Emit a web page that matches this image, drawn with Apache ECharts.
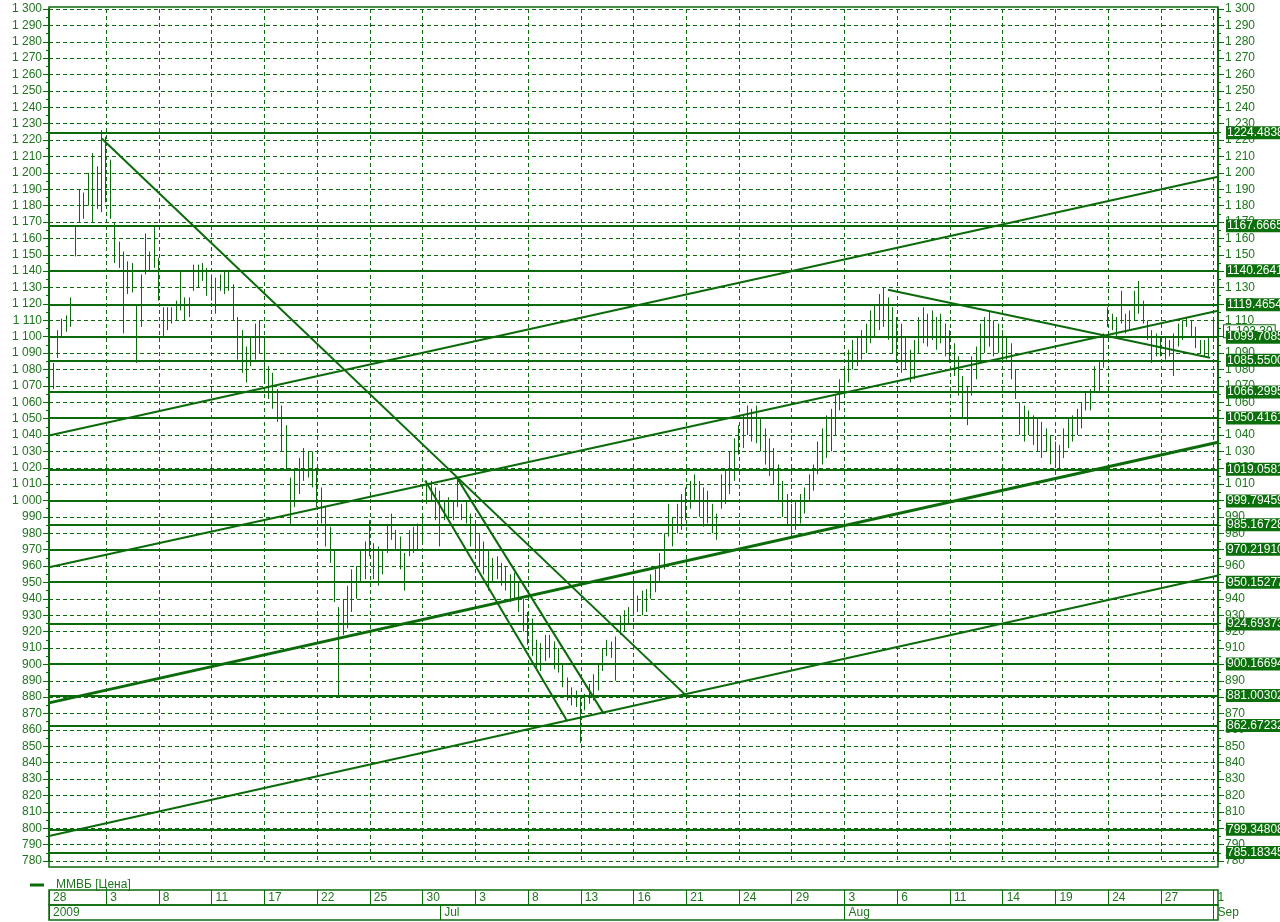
<!DOCTYPE html>
<html><head><meta charset="utf-8">
<script src="https://cdn.jsdelivr.net/npm/echarts@6/dist/echarts.min.js"></script>
<style>html,body{margin:0;padding:0;background:#fff}#c{width:1280px;height:922px}</style>
</head><body><div id="c"></div>
<script>
// ---- data ----
const YEAR = 2009;
const tradingDays = ['05-28','05-29','06-01','06-02','06-03','06-04','06-05','06-08','06-09','06-10','06-11','06-15','06-16','06-17','06-18','06-19','06-22','06-23','06-24','06-25','06-26','06-29','06-30','07-01','07-02','07-03','07-06','07-07','07-08','07-09','07-10','07-13','07-14','07-15','07-16','07-17','07-20','07-21','07-22','07-23','07-24','07-27','07-28','07-29','07-30','07-31','08-03','08-04','08-05','08-06','08-07','08-10','08-11','08-12','08-13','08-14','08-17','08-18','08-19','08-20','08-21','08-24','08-25','08-26','08-27','08-28','08-31','09-01'];
const barsFirstDay = 1, barsPerDay = 4, barsLastDay = 2;

const lows = [
1070,1068,1087,1100,1103,1106,1149,1170,1172,1180,
1170,1178,1176,1182,1172,1145,1142,1102,1126,1127,
1084,1106,1138,1140,1142,1122,1100,1104,1108,1110,
1116,1110,1112,1128,1130,1134,1125,1122,1114,1128,
1126,1128,1110,1086,1078,1072,1082,1086,1090,1072,
1062,1056,1048,1030,1018,985,996,1004,1012,1014,
1008,996,986,972,962,938,880,918,922,932,
940,950,952,966,952,948,955,968,976,970,
958,945,966,968,970,975,998,1000,988,972,
988,990,988,996,988,986,972,968,960,955,
945,950,952,948,945,938,940,932,920,912,
905,898,896,902,904,897,895,886,878,875,
874,852,872,876,878,884,896,905,904,890,
918,920,925,930,932,930,932,940,944,950,
958,978,972,980,982,988,995,1000,990,984,
986,980,976,995,998,1004,1012,1028,1032,1040,
1036,1035,1030,1022,1015,1010,1000,990,985,980,
982,986,992,1000,1006,1016,1022,1026,1030,1040,
1055,1065,1072,1080,1082,1086,1090,1096,1100,1104,
1106,1098,1090,1084,1078,1080,1072,1074,1090,1096,
1094,1098,1092,1096,1088,1084,1076,1064,1050,1046,
1064,1074,1084,1090,1094,1088,1090,1084,1086,1074,
1062,1040,1036,1040,1034,1030,1026,1030,1022,1020,
1018,1026,1032,1036,1040,1044,1055,1055,1066,1067,
1081,1106,1104,1100,1108,1102,1104,1110,1114,1108,
1098,1084,1088,1088,1086,1088,1076,1094,1098,1106,
1100,1093,1090,1088,1088,1098,1102];
const highs = [
1085,1084,1104,1111,1113,1124,1168,1190,1188,1200,
1212,1204,1226,1222,1208,1170,1158,1152,1146,1145,
1120,1138,1163,1152,1167,1148,1118,1118,1118,1122,
1140,1124,1124,1144,1144,1145,1142,1138,1136,1138,
1140,1140,1132,1112,1104,1094,1100,1108,1110,1098,
1082,1078,1068,1058,1046,1014,1020,1026,1032,1030,
1030,1018,1008,996,984,970,935,940,948,958,
960,970,975,988,974,972,970,985,992,982,
978,968,982,984,986,990,1012,1012,1008,1006,
1000,1002,1000,1014,998,1000,992,986,980,975,
970,965,966,962,960,955,956,950,940,932,
928,915,913,918,918,914,910,900,892,886,
884,880,882,888,894,900,910,915,914,917,
930,933,935,953,942,945,946,955,958,968,
980,998,990,998,1004,1008,1012,1016,1012,1008,
1006,998,992,1016,1018,1030,1038,1046,1052,1058,
1056,1058,1050,1044,1038,1032,1022,1012,1004,998,
1000,1004,1008,1016,1022,1036,1044,1052,1056,1064,
1074,1082,1092,1098,1100,1104,1108,1116,1120,1126,
1130,1124,1118,1112,1108,1100,1092,1098,1112,1118,
1114,1116,1112,1114,1108,1104,1096,1088,1076,1070,
1088,1094,1108,1112,1116,1110,1108,1104,1100,1096,
1080,1060,1058,1055,1052,1050,1048,1044,1040,1036,
1034,1044,1050,1052,1056,1060,1066,1068,1082,1085,
1102,1118,1114,1112,1128,1114,1116,1128,1134,1122,
1110,1104,1102,1100,1100,1098,1102,1108,1110,1112,
1110,1106,1098,1098,1100,1112,1110];

const dayTickDates = ['05-28','06-03','06-08','06-11','06-17','06-22','06-25','06-30','07-03','07-08','07-13','07-16','07-21','07-24','07-29','08-03','08-06','08-11','08-14','08-19','08-24','08-27','09-01'];
const monthTickDates = ['05-28','07-01','08-03','09-01'];
const monthTickLabels = ['2009','Jul','Aug','Sep'];

const levels = [1224.48388,1167.66659,1140.26415,1119.46547,1099.70854,1085.55008,1066.29958,1050.41612,1019.05811,999.79459,985.16728,970.21910,950.15277,924.69373,900.16694,881.00302,862.67232,799.34808,785.18345];
const lastPrice = 1103.30;

// trend lines (bar index / price)
const trendStartIdx = [0, 0, 0, 0, 12, 85.6, 92.8, 190.9];
const trendStartVal = [1039.7, 959.3, 876.5, 795.2, 1221.0, 1012.2, 1014.0, 1128.7];
const trendEndIdx   = [266, 266, 266, 266, 144.7, 117.9, 126.1, 264.2];
const trendEndVal   = [1197.6, 1115.8, 1035.6, 954.3, 881.7, 865.4, 870.4, 1087.2];
const trendWidth    = [2, 2, 3, 2, 2, 2, 2, 2];

// ---- build ----
const GREEN = '#0b6b0b';
const TEXT = '#1f761f';
const cats = [], dayStart = {};
tradingDays.forEach((d, k) => {
  const n = k === 0 ? barsFirstDay : (k === tradingDays.length - 1 ? barsLastDay : barsPerDay);
  dayStart[d] = cats.length;
  for (let j = 0; j < n; j++) cats.push(YEAR + '-' + d + ' #' + j);
});
const dayTickIdx = new Set(dayTickDates.map(d => dayStart[d]));
const monthTickIdx = {};
monthTickDates.forEach((d, k) => { monthTickIdx[dayStart[d]] = monthTickLabels[k]; });
const monthTickSet = new Set(Object.keys(monthTickIdx).map(Number));
const lastIdx = cats.length - 1;

const fmtThousands = v => String(v).replace(/\B(?=(\d{3})+(?!\d))/g, ' ');
const font = 'Liberation Sans, Arial, sans-serif';

const series = [];
series.push({
  name: 'ММВБ [Цена]', type: 'candlestick', xAxisIndex: 0, yAxisIndex: 0,
  barWidth: 1, z: 3,
  data: lows.map((l, i) => [l, highs[i], l, highs[i]]),
  itemStyle: { color: GREEN, color0: GREEN, borderColor: GREEN, borderColor0: GREEN, borderWidth: 1 }
});
// last price box (drawn beneath level labels)
series.push({
  type: 'line', xAxisIndex: 1, yAxisIndex: 0, data: [], silent: true, z: 6,
  markLine: { silent: true, symbol: 'none', animation: false,
    lineStyle: { width: 0, color: 'rgba(0,0,0,0)' },
    label: { show: true, position: 'end', distance: 6, formatter: '1 103.30',
      color: GREEN, backgroundColor: '#fff', borderColor: GREEN, borderWidth: 1,
      padding: [0, 2, 0, 2], fontFamily: font, fontSize: 12 },
    data: [{ yAxis: lastPrice }] }
});
series.push({
  type: 'line', xAxisIndex: 1, yAxisIndex: 0, data: [], silent: true, z: 7,
  markLine: { silent: true, symbol: 'none', animation: false, precision: 5,
    lineStyle: { color: GREEN, width: 2, type: 'solid' },
    label: { show: true, position: 'end', distance: 8,
      formatter: p => levels[p.dataIndex].toFixed(5),
      color: '#fff', backgroundColor: '#0b700b', padding: [1, 1, 0, 1],
      fontFamily: font, fontSize: 12 },
    emphasis: { disabled: true },
    data: levels.map(v => ({ yAxis: v })) }
});
trendStartIdx.forEach((s, k) => {
  series.push({
    type: 'line', xAxisIndex: 1, yAxisIndex: 0, silent: true, z: 4,
    symbol: 'none', lineStyle: { color: GREEN, width: trendWidth[k] },
    data: [[s, trendStartVal[k]], [trendEndIdx[k], trendEndVal[k]]]
  });
});

const yCommon = {
  type: 'value', min: 780, max: 1300, interval: 10, gridIndex: 0,
  axisLine: { show: true, lineStyle: { color: GREEN, width: 2 } },
  axisTick: { show: true, length: 6, lineStyle: { color: GREEN } },
  minorTick: { show: true, splitNumber: 2, length: 3, lineStyle: { color: GREEN } },
  axisLabel: { color: TEXT, fontFamily: font, fontSize: 12, margin: 7, formatter: fmtThousands }
};

const option = {
  animation: false,
  backgroundColor: '#fff',
  grid: [
    { left: 49, right: 62, top: 9, height: 852 },
    { left: 49, right: 62, top: 890, height: 15, show: true, borderColor: GREEN, borderWidth: 1.5 },
    { left: 49, right: 62, top: 905, height: 15, show: true, borderColor: GREEN, borderWidth: 1.5 }
  ],
  legend: {
    left: 25, top: 874, icon: 'path://M0,0H12V1H0Z', itemWidth: 12, itemHeight: 1,
    data: ['ММВБ [Цена]'], selectedMode: false,
    itemStyle: { color: GREEN },
    textStyle: { color: TEXT, fontFamily: font, fontSize: 12, padding: [0, 0, 0, 8] }
  },
  xAxis: [
    { type: 'category', gridIndex: 0, data: cats, boundaryGap: false,
      axisLine: { show: false }, axisTick: { show: false }, axisLabel: { show: false },
      splitLine: { show: true, interval: i => dayTickIdx.has(i),
        lineStyle: { color: GREEN, type: [4, 3], width: 1 } } },
    { type: 'value', gridIndex: 0, min: 0, max: lastIdx, show: false },
    { type: 'category', gridIndex: 1, data: cats, boundaryGap: false,
      axisLine: { show: false }, axisTick: { show: false },
      splitLine: { show: true, interval: i => dayTickIdx.has(i), lineStyle: { color: GREEN, width: 1 } },
      axisLabel: { show: true, inside: true, margin: 1, align: 'left', padding: [0, 0, 0, 4],
        interval: i => dayTickIdx.has(i), color: TEXT, fontFamily: font, fontSize: 12,
        formatter: v => String(parseInt(v.slice(8, 10), 10)) } },
    { type: 'category', gridIndex: 2, data: cats, boundaryGap: false,
      axisLine: { show: false }, axisTick: { show: false },
      splitLine: { show: true, interval: i => monthTickSet.has(i), lineStyle: { color: GREEN, width: 1 } },
      axisLabel: { show: true, inside: true, margin: 1, align: 'left', padding: [0, 0, 0, 4],
        interval: i => monthTickSet.has(i), color: TEXT, fontFamily: font, fontSize: 12,
        formatter: v => monthTickIdx[cats.indexOf(v)] || '' } }
  ],
  yAxis: [
    Object.assign({}, yCommon, { position: 'left',
      splitLine: { show: true, lineStyle: { color: GREEN, type: [4, 3], width: 1 } } }),
    Object.assign({}, yCommon, { position: 'right', splitLine: { show: false } }),
    { type: 'value', gridIndex: 1, show: false },
    { type: 'value', gridIndex: 2, show: false }
  ],
  graphic: [
    { type: 'rect', shape: { x: 49, y: 7, width: 1169, height: 860 }, silent: true, z: 100,
      style: { fill: 'none', stroke: GREEN, lineWidth: 1.5 } }
  ],
  series: series
};
const chart = echarts.init(document.getElementById('c'));
chart.setOption(option);
</script></body></html>
